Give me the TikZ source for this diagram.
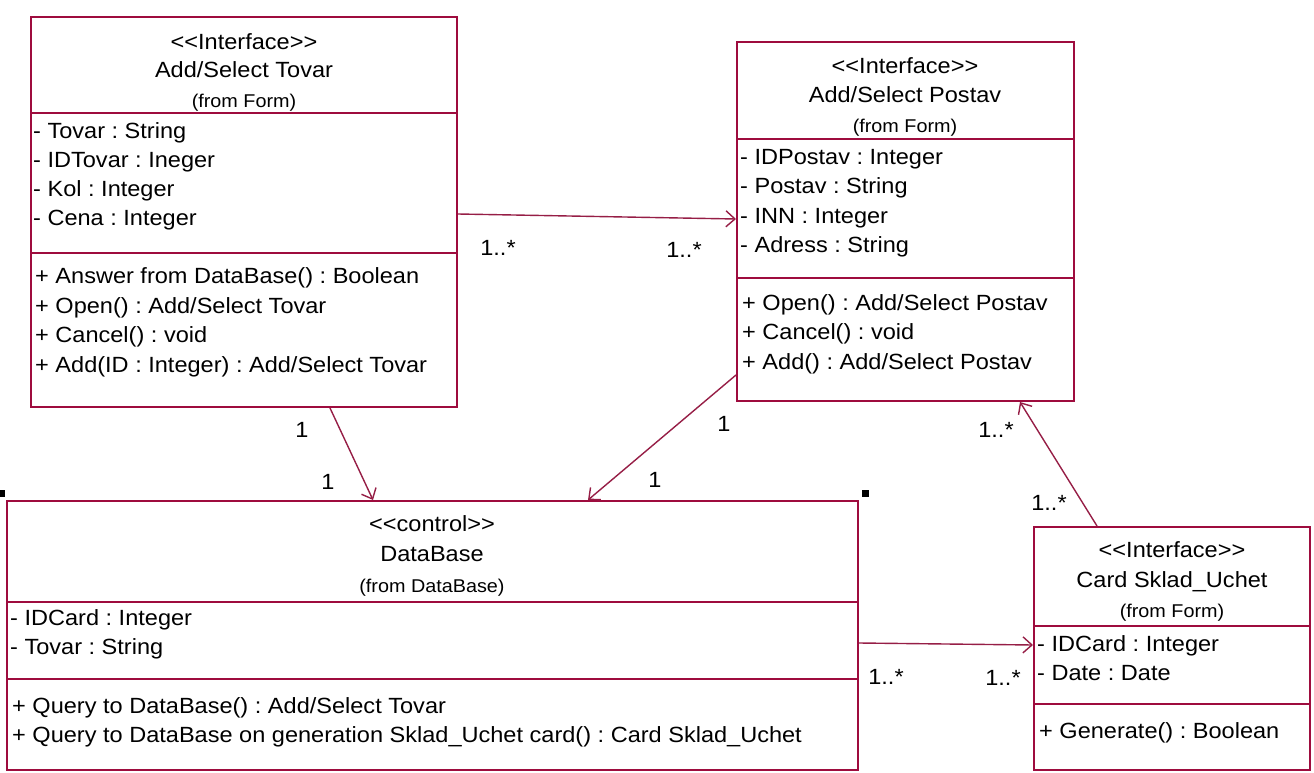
\documentclass[tikz,border=0pt]{standalone}
\usepackage{fontspec}
\setmainfont[FakeStretch=1.07, Ligatures=TeXOff]{Liberation Sans}
\usetikzlibrary{arrows.meta}
\definecolor{umlred}{RGB}{158,12,62}
\definecolor{connred}{RGB}{150,30,70}
\frenchspacing
\begin{document}
\frenchspacing
\begin{tikzpicture}[x=1pt,y=-1pt,
  box/.style={draw=umlred, line width=2pt, rectangle, inner sep=0pt, fill=white},
  sepline/.style={draw=umlred, line width=1.6pt},
  txt/.style={inner sep=0pt, yshift=-5pt},
  stereo/.style={txt, font=\fontsize{22}{26}\selectfont, anchor=mid},
  cname/.style={txt, font=\fontsize{22}{26}\selectfont, anchor=mid},
  fromtxt/.style={txt, font=\fontsize{18.5}{22}\selectfont, anchor=mid},
  member/.style={txt, font=\fontsize{22}{26}\selectfont, anchor=mid west},
  mult/.style={txt, font=\fontsize{22}{26}\selectfont, anchor=mid},
  conn/.style={draw=connred, line width=1.4pt, -{Straight Barb[length=9pt,width=16pt,line width=1.4pt]}},
  handle/.style={fill=black, inner sep=0pt, minimum width=7pt, minimum height=7pt}
]
\useasboundingbox (0,0) rectangle (1314,773);

% ---------------- Add/Select Tovar ----------------
\node[box, minimum width=426pt, minimum height=390pt] (tovar) at (244,212) {};
\draw[sepline] (31,113) -- (457,113);
\draw[sepline] (31,253) -- (457,253);
\node[stereo] (tovarS) at (244,42) {<<Interface>>};
\node[cname] (tovarN) at (244,70) {Add/Select Tovar};
\node[fromtxt] (tovarF) at (244,100) {(from Form)};
\node[member] (ta1) at (33,131) {- Tovar : String};
\node[member] (ta2) at (33,160) {- IDTovar : Ineger};
\node[member] (ta3) at (33,189) {- Kol : Integer};
\node[member] (ta4) at (33,218) {- Cena : Integer};
\node[member] (tm1) at (35,276) {+ Answer from DataBase() : Boolean};
\node[member] (tm2) at (35,306) {+ Open() : Add/Select Tovar};
\node[member] (tm3) at (35,335) {+ Cancel() : void};
\node[member] (tm4) at (35,365) {+ Add(ID : Integer) : Add/Select Tovar};

% ---------------- Add/Select Postav ----------------
\node[box, minimum width=337pt, minimum height=359pt] (postav) at (905.5,221.5) {};
\draw[sepline] (737,139) -- (1074,139);
\draw[sepline] (737,278) -- (1074,278);
\node[stereo] (postavS) at (905,66) {<<Interface>>};
\node[cname] (postavN) at (905,95) {Add/Select Postav};
\node[fromtxt] (postavF) at (905,125) {(from Form)};
\node[member] (pa1) at (740,157) {- IDPostav : Integer};
\node[member] (pa2) at (740,186) {- Postav : String};
\node[member] (pa3) at (740,216) {- INN : Integer};
\node[member] (pa4) at (740,245) {- Adress : String};
\node[member] (pm1) at (742,303) {+ Open() : Add/Select Postav};
\node[member] (pm2) at (742,332) {+ Cancel() : void};
\node[member] (pm3) at (742,362) {+ Add() : Add/Select Postav};

% ---------------- DataBase ----------------
\node[box, minimum width=851pt, minimum height=269pt] (db) at (432.5,635.5) {};
\draw[sepline] (7,602) -- (858,602);
\draw[sepline] (7,679) -- (858,679);
\node[stereo] (dbS) at (432,524) {<<control>>};
\node[cname] (dbN) at (432,554) {DataBase};
\node[fromtxt] (dbF) at (432,585) {(from DataBase)};
\node[member] (da1) at (10,618) {- IDCard : Integer};
\node[member] (da2) at (10,647) {- Tovar : String};
\node[member] (dm1) at (12,706) {+ Query to DataBase() : Add/Select Tovar};
\node[member] (dm2) at (12,735) {+ Query to DataBase on generation Sklad\_Uchet card() : Card Sklad\_Uchet};

% ---------------- Card Sklad_Uchet ----------------
\node[box, minimum width=276pt, minimum height=243pt] (card) at (1172,648.5) {};
\draw[sepline] (1034,626) -- (1310,626);
\draw[sepline] (1034,704) -- (1310,704);
\node[stereo] (cardS) at (1172,550) {<<Interface>>};
\node[cname] (cardN) at (1172,580) {Card Sklad\_Uchet};
\node[fromtxt] (cardF) at (1172,610) {(from Form)};
\node[member] (ca1) at (1037,644) {- IDCard : Integer};
\node[member] (ca2) at (1037,673) {- Date : Date};
\node[member] (cm1) at (1039,731) {+ Generate() : Boolean};

% selection handles
\node[handle] (h1) at (1.5,493) {};
\node[handle] (h2) at (865,493) {};

% ---------------- connectors ----------------
\draw[conn] ([yshift=-2pt]tovar.east) -- ([yshift=2.5pt]postav.west);
\draw[conn] ([xshift=86pt]tovar.south) -- ([xshift=-59.5pt]db.north);
\draw[conn] ([yshift=-153.5pt]postav.west) -- ([xshift=155.5pt]db.north);
\draw[conn] ([xshift=-75pt]card.north) -- ([xshift=114.5pt]postav.south);
\draw[conn] ([yshift=-7.5pt]db.east) -- ([yshift=3.5pt]card.west);

% multiplicities
\node[mult] (m1) at (498,248) {1..*};
\node[mult] (m2) at (684,250) {1..*};
\node[mult] (m3) at (302,430) {1};
\node[mult] (m4) at (328,482) {1};
\node[mult] (m5) at (724,424) {1};
\node[mult] (m6) at (655,480) {1};
\node[mult] (m7) at (996,430) {1..*};
\node[mult] (m8) at (1049,503) {1..*};
\node[mult] (m9) at (886,677) {1..*};
\node[mult] (m10) at (1003,678) {1..*};
\end{tikzpicture}
\end{document}
